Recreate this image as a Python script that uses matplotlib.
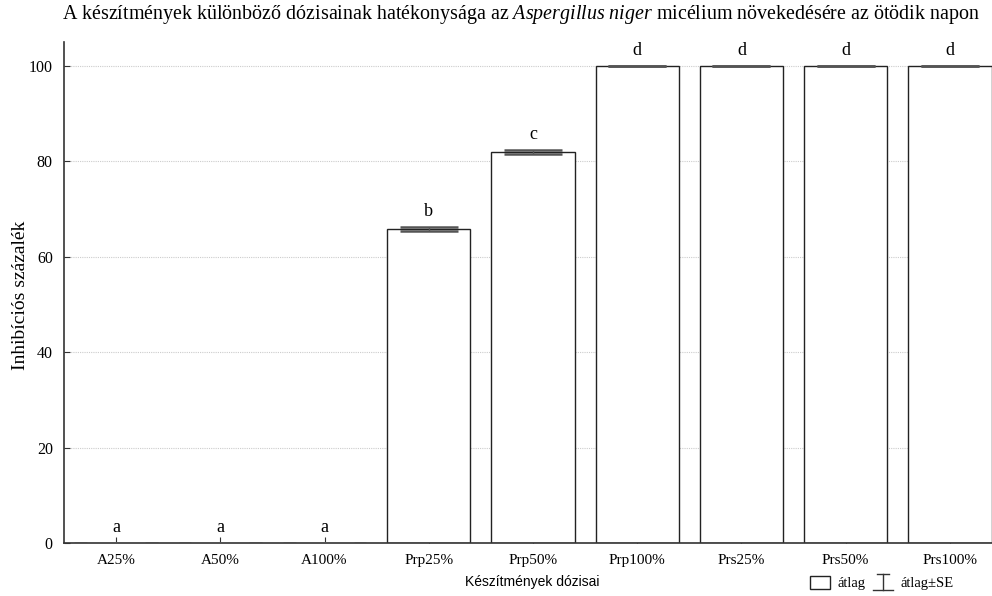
import numpy as np
import matplotlib.pyplot as plt
from matplotlib.patches import Patch
from matplotlib.lines import Line2D
from matplotlib.legend_handler import HandlerBase

# === Data ===
doses = ["A25%", "A50%", "A100%", "Prp25%", "Prp50%", "Prp100%", "Prs25%", "Prs50%", "Prs100%"]
means = [0, 0, 0, 65.8, 82.0, 100, 100, 100, 100]
se = [0, 0, 0, 0.5, 0.45, 0, 0, 0, 0]
letters = ["a", "a", "a", "b", "c", "d", "d", "d", "d"]

serif = "Liberation Serif"
sans = "Liberation Sans"
plt.rcParams["mathtext.fontset"] = "custom"
plt.rcParams["mathtext.rm"] = serif
plt.rcParams["mathtext.it"] = serif + ":italic"


class ErrHandler(HandlerBase):
    # legend symbol: bottom line, vertical stem, top cap
    def create_artists(self, legend, orig_handle, xdescent, ydescent,
                       width, height, fontsize, trans):
        x0, x1 = -xdescent, -xdescent + width
        xm = (x0 + x1) / 2
        y0, y1 = -ydescent - 1, -ydescent + height * 1.1
        kw = dict(color="#333333", lw=1.0, transform=trans)
        return [Line2D([x0, x1], [y0, y0], **kw),
                Line2D([xm, xm], [y0, y1], **kw),
                Line2D([xm - width * 0.3, xm + width * 0.3], [y1, y1], **kw)]


# === Plot ===
fig = plt.figure(figsize=(9.92, 5.96), dpi=100)
ax = fig.add_axes([0.0645, 0.089, 0.9456, 0.8406])

x = np.arange(len(doses))
ax.bar(x, means, width=0.8, color="white", edgecolor="#222222", linewidth=1.0, zorder=2)
ax.errorbar(x, means, yerr=se, fmt="none", ecolor="#555555", elinewidth=1.0,
            capsize=21, capthick=1.8, zorder=3)

for xi, m, s, lab in zip(x, means, se, letters):
    ax.annotate(lab, (xi, m + s), xytext=(0, 5), textcoords="offset points",
                ha="center", va="bottom", fontsize=13, family=serif)

ax.set_xlim(-0.5, 8.5)
ax.set_ylim(0, 105)
ax.set_yticks([0, 20, 40, 60, 80, 100])
ax.set_xticks(x)
ax.set_xticklabels(doses, fontsize=11, family=serif)
for t in ax.get_yticklabels():
    t.set_fontsize(11.5)
    t.set_family(serif)
ax.tick_params(direction="in", length=4, color="#333333", pad=8)
ax.grid(axis="y", linestyle=(0, (1, 1)), color="#cccccc", linewidth=0.8, zorder=0)
ax.set_axisbelow(True)

for side in ["top", "right"]:
    ax.spines[side].set_visible(False)
for side in ["left", "bottom"]:
    ax.spines[side].set_color("#333333")
    ax.spines[side].set_linewidth(1.2)

fig.text(0.021, 0.505, "Inhibíciós százalék", fontsize=14, family=serif,
         rotation=90, ha="center", va="center")
fig.text(0.537, 0.023, "Készítmények dózisai", fontsize=10, family=sans,
         ha="center", va="center")

fig.text(0.0625, 0.975,
         "A készítmények különböző dózisainak hatékonysága az "
         r"$\mathit{Aspergillus\ niger}$" " micélium növekedésére az ötödik napon",
         fontsize=14.4, family=serif, ha="left", va="center")

fig.legend([Patch(facecolor="white", edgecolor="#222222"), "err"],
           ["átlag", "átlag±SE"], loc="center left", bbox_to_anchor=(0.803, 0.022),
           ncol=2, frameon=False, prop={"family": serif, "size": 10.5},
           handlelength=1.4, handleheight=1.0, handletextpad=0.5, columnspacing=0.5,
           handler_map={str: ErrHandler()})

fig.savefig("out.png", dpi=100)
